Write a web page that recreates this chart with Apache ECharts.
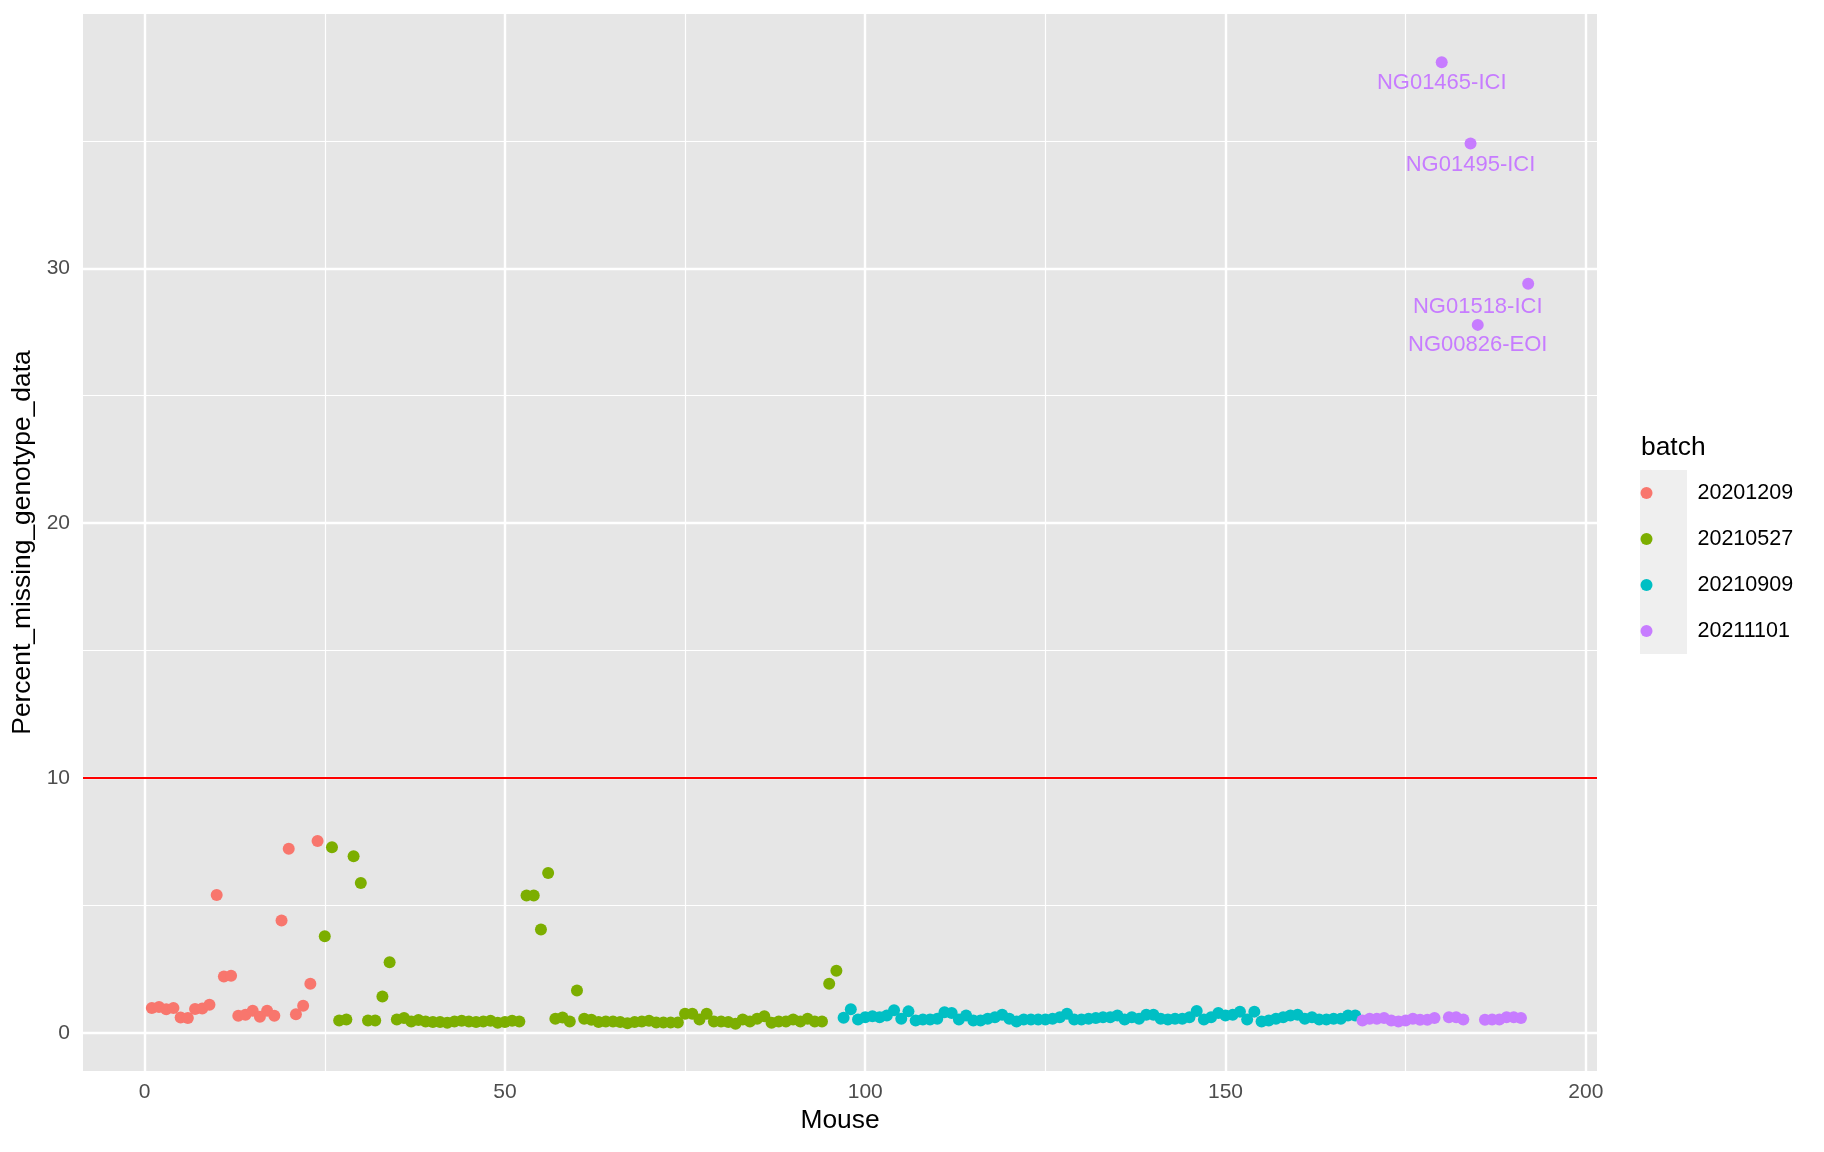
<!DOCTYPE html>
<html>
<head>
<meta charset="utf-8">
<script src="https://cdn.jsdelivr.net/npm/echarts@6/dist/echarts.min.js"></script>
<style>
html,body{margin:0;padding:0;background:#fff;}
#chart{width:1824px;height:1152px;}
</style>
</head>
<body>
<div id="chart"></div>
<script>
// ---- data ----
const batchNames = ['20201209', '20210527', '20210909', '20211101'];
const batchColors = ['#F8766D', '#7CAE00', '#00BFC4', '#C77CFF'];
const batchFirstMouse = [1, 25, 97, 169];

const values_20201209 = [0.97,1.01,0.92,0.97,0.60,0.58,0.93,0.95,1.10,5.41,2.21,2.24,0.67,0.71,0.86,0.63,0.86,0.67,4.41,7.22,0.73,1.06,1.92,7.53];
const values_20210527 = [3.79,7.28,0.48,0.52,6.93,5.88,0.48,0.48,1.42,2.77,0.52,0.58,
  0.44,0.50,0.44,0.42,0.42,0.39,0.44,0.47,0.44,0.42,0.44,0.47,0.39,0.42,0.47,0.44,
  5.39,5.39,4.05,6.27,0.55,0.60,0.44,1.66,0.55,0.51,0.42,0.44,0.44,0.42,0.37,0.42,0.44,0.47,0.40,0.40,0.40,0.40,
  0.75,0.75,0.52,0.75,0.44,0.44,0.42,0.35,0.52,0.44,0.55,0.65,0.39,0.44,0.44,0.52,0.44,0.55,0.44,0.44,1.92,2.43];
const values_20210909 = [0.59,0.92,0.52,0.61,0.65,0.61,0.68,0.88,0.55,0.84,
  0.48,0.52,0.52,0.55,0.81,0.78,0.52,0.68,0.48,0.48,
  0.55,0.61,0.71,0.55,0.44,0.52,0.52,0.52,0.52,0.55,
  0.61,0.75,0.52,0.52,0.55,0.58,0.61,0.61,0.68,0.52,
  0.61,0.55,0.71,0.71,0.55,0.52,0.55,0.55,0.61,0.85,
  0.52,0.61,0.78,0.68,0.71,0.83,0.52,0.83,0.44,0.48,
  0.55,0.61,0.68,0.71,0.55,0.61,0.52,0.52,0.55,0.55,
  0.68,0.68];
const values_20211101 = [0.48,0.55,0.55,0.58,0.48,0.44,0.48,0.55,0.51,0.51,0.58,38.09,0.61,0.61,0.52,34.90,27.78,0.51,0.52,0.52,0.61,0.61,0.58,29.39];

const labelNames = ['NG01465-ICI', 'NG01495-ICI', 'NG01518-ICI', 'NG00826-EOI'];
const labelX = [180, 184, 185, 185];
const labelY = [37.27, 34.07, 28.5, 26.98];

const xTicks = [0, 50, 100, 150, 200];
const xMinor = [25, 75, 125, 175];
const yTicks = [0, 10, 20, 30];
const yMinor = [5, 15, 25, 35];
const threshold = 10;

// ---- chart ----
const FONT = "'Liberation Sans', Arial, Helvetica, sans-serif";
const batchValues = [values_20201209, values_20210527, values_20210909, values_20211101];

const gridLines = [];
xTicks.forEach(v => gridLines.push({xAxis: v, lineStyle: {color: '#fff', width: 2.4, type: 'solid'}}));
xMinor.forEach(v => gridLines.push({xAxis: v, lineStyle: {color: '#fff', width: 1.2, type: 'solid'}}));
yTicks.forEach(v => gridLines.push({yAxis: v, lineStyle: {color: '#fff', width: 2.4, type: 'solid'}}));
yMinor.forEach(v => gridLines.push({yAxis: v, lineStyle: {color: '#fff', width: 1.2, type: 'solid'}}));

const series = [];
series.push({
  name: 'gridlines', type: 'scatter', data: [], silent: true, z: 1,
  markLine: {
    silent: true, symbol: ['none', 'none'], z: 1, animation: false,
    label: {show: false},
    data: gridLines
  }
});
series.push({
  name: 'threshold', type: 'scatter', data: [], silent: true, z: 1,
  markLine: {
    silent: true, symbol: ['none', 'none'], z: 1.5, animation: false,
    label: {show: false},
    data: [{yAxis: threshold, lineStyle: {color: '#FF0000', width: 2, type: 'solid'}}]
  }
});
batchNames.forEach((b, k) => {
  series.push({
    name: b, type: 'scatter', z: 3,
    symbol: 'circle', symbolSize: 12,
    itemStyle: {color: batchColors[k], opacity: 1},
    data: batchValues[k].map((v, j) => [batchFirstMouse[k] + j, v])
  });
});
series.push({
  name: 'labels', type: 'scatter', z: 4, silent: true,
  symbolSize: 2, itemStyle: {color: 'rgba(0,0,0,0)'},
  data: labelNames.map((n, i) => ({value: [labelX[i], labelY[i]], name: n})),
  label: {
    show: true, position: 'inside', formatter: p => p.name,
    color: '#C77CFF', fontSize: 22, fontFamily: FONT,
    textBorderWidth: 0, textBorderColor: 'transparent', opacity: 1,
    align: 'center', verticalAlign: 'middle'
  }
});

const option = {
  animation: false,
  backgroundColor: '#ffffff',
  textStyle: {fontFamily: FONT},
  grid: {
    left: 83, right: 227, top: 14, bottom: 81,
    show: true, backgroundColor: '#E6E6E6', borderWidth: 0
  },
  title: {
    text: 'batch', left: 1641, top: 435, padding: 0,
    textStyle: {fontSize: 26.4, fontWeight: 'normal', color: '#000', fontFamily: FONT}
  },
  legend: {
    data: batchNames,
    orient: 'vertical', left: 1640.5, top: 482, padding: 0,
    itemWidth: 46, itemHeight: 12, itemGap: 24,
    icon: 'circle',
    formatter: name => '{pad|}' + name,
    textStyle: {
      fontSize: 21.5, color: '#000', fontFamily: FONT, lineHeight: 22,
      rich: {pad: {width: 23}}
    },
    selectedMode: false
  },
  graphic: [{
    type: 'rect', left: 1640, top: 470, z: -1, silent: true,
    shape: {width: 47, height: 184},
    style: {fill: '#EFEFEF'}
  }],
  xAxis: {
    type: 'value', min: -8.55, max: 201.55,
    name: 'Mouse', nameLocation: 'middle', nameGap: 37,
    nameTextStyle: {fontSize: 26.4, color: '#000', fontFamily: FONT},
    axisLine: {show: false},
    axisTick: {show: true, customValues: xTicks, length: 7, lineStyle: {color: '#333333', width: 2}},
    axisLabel: {customValues: xTicks, fontSize: 21, color: '#4D4D4D', margin: 11, fontFamily: FONT},
    splitLine: {show: false}
  },
  yAxis: {
    type: 'value', min: -1.5, max: 39.98,
    name: 'Percent_missing_genotype_data', nameLocation: 'middle', nameGap: 40, nameRotate: 90,
    nameTextStyle: {fontSize: 26.4, color: '#000', fontFamily: FONT},
    axisLine: {show: false},
    axisTick: {show: true, customValues: yTicks, length: 7, lineStyle: {color: '#333333', width: 2}},
    axisLabel: {customValues: yTicks, fontSize: 21, color: '#4D4D4D', margin: 13, fontFamily: FONT},
    splitLine: {show: false}
  },
  series: series
};

const chart = echarts.init(document.getElementById('chart'), null, {renderer: 'canvas'});
chart.setOption(option);
</script>
</body>
</html>
